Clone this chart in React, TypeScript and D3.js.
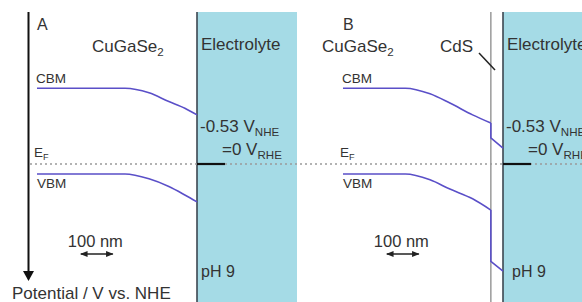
import React from "react";
import * as d3 from "d3";

// ---- data (distance in nm from the electrolyte interface, potential in V vs. NHE) ----
const panelLabels = ["A", "B"];
const efermiNHE = -0.53; // = 0 V_RHE at pH 9

const posA = [-500, -225, -150, -88, -38, 0];
const cbmA = [-2.01, -2.01, -1.92, -1.75, -1.62, -1.49];
const vbmA = [-0.335, -0.335, -0.24, -0.09, 0.075, 0.21];

const posB = [-500, -305, -228, -166, -95, -38];
const cbmB = [-2.01, -2.01, -1.9, -1.72, -1.49, -1.33];
const vbmB = [-0.335, -0.335, -0.22, -0.04, 0.15, 0.37];

const cdsPos = [-38, -38, 0];
const cdsCbm = [-1.33, -1.04, -0.84];
const cdsVbm = [0.37, 1.37, 1.56];

const scaleBarNm = 100;

const W = 582;
const H = 302;
const FONT = "'Liberation Sans', Arial, Helvetica, sans-serif";
const TXT = "#333";
const BAND = "#5a4fc8";
const BLUE = "#a5dbe6";

export default function App() {
  const xA = d3.scaleLinear().domain([-500, 0]).range([37, 197]);
  const xB = d3.scaleLinear().domain([-500, 0]).range([343, 503]);
  const y = d3.scaleLinear().domain([efermiNHE, efermiNHE + 1]).range([164, 215.2]);

  const bandPath = (xs: d3.ScaleLinear<number, number>, p: number[], v: number[], curve: d3.CurveFactory) =>
    d3
      .line<number>()
      .x((_, i) => xs(p[i]))
      .y((d) => y(d))
      .curve(curve)(v) as string;

  const yF = y(efermiNHE);

  const sub = (t: string) => (
    <tspan baselineShift="-30%" fontSize="0.68em">
      {t}
    </tspan>
  );

  const background = (key: string, xs: d3.ScaleLinear<number, number>, withCdS: boolean, rightEdge: number) => {
    const x0 = xs(0);
    return (
      <g key={"bg" + key}>
        <rect x={x0} y={12} width={rightEdge - x0} height={H - 12} fill={BLUE} />
        <line x1={x0} x2={x0} y1={12} y2={H} stroke="#3c4650" strokeWidth={1.6} />
        {withCdS && (
          <line x1={xs(cdsPos[0])} x2={xs(cdsPos[0])} y1={12} y2={H} stroke="#9a9a9a" strokeWidth={1.5} />
        )}
      </g>
    );
  };

  const panel = (
    key: string,
    xs: d3.ScaleLinear<number, number>,
    p: number[],
    cbm: number[],
    vbm: number[],
    withCdS: boolean
  ) => {
    const x0 = xs(0);
    const xStart = xs(-500);
    const sb0 = xs(-500 + 137);
    return (
      <g key={key}>
        <path d={bandPath(xs, p, cbm, d3.curveMonotoneX)} fill="none" stroke={BAND} strokeWidth={1.6} />
        <path d={bandPath(xs, p, vbm, d3.curveMonotoneX)} fill="none" stroke={BAND} strokeWidth={1.6} />
        {withCdS && (
          <>
            <path d={bandPath(xs, cdsPos, cdsCbm, d3.curveLinear)} fill="none" stroke={BAND} strokeWidth={1.6} />
            <path d={bandPath(xs, cdsPos, cdsVbm, d3.curveLinear)} fill="none" stroke={BAND} strokeWidth={1.6} />
          </>
        )}
        {/* Fermi level marker in electrolyte */}
        <line x1={x0} x2={x0 + 28} y1={yF} y2={yF} stroke="#111" strokeWidth={2.2} />
        {/* texts */}
        <g fill={TXT} fontFamily={FONT}>
          <text x={xStart} y={30} fontSize={16}>{key}</text>
          <text x={xStart - 1} y={83} fontSize={13.5}>CBM</text>
          <text x={xStart - 3} y={157} fontSize={13.5}>E{sub("F")}</text>
          <text x={xStart} y={188} fontSize={13.5}>VBM</text>
          <text x={withCdS ? xStart - 21 : xStart + 55} y={52} fontSize={17}>CuGaSe{sub("2")}</text>
          {withCdS && <text x={440} y={52} fontSize={17}>CdS</text>}
          <text x={x0 + 4} y={50} fontSize={17}>Electrolyte</text>
          <text x={x0 + 3} y={132} fontSize={17}>-0.53 V{sub("NHE")}</text>
          <text x={x0 + 25} y={155} fontSize={17}>=0 V{sub("RHE")}</text>
          <text x={x0 + (withCdS ? 9 : 4)} y={277} fontSize={16}>pH 9</text>
          <text x={sb0 - 13} y={247} fontSize={16.5}>100 nm</text>
        </g>
        {/* scale bar */}
        <g stroke="#222" strokeWidth={1.5}>
          <line x1={sb0} x2={xs(-500 + 137 + scaleBarNm)} y1={254} y2={254} markerStart="url(#sb)" markerEnd="url(#sb)" />
        </g>
      </g>
    );
  };

  return (
    <svg width={W} height={H} style={{ position: "absolute", left: 0, top: 0 }}>
      <defs>
        <marker id="sb" viewBox="0 0 10 10" refX="9" refY="5" markerWidth="5" markerHeight="5" orient="auto-start-reverse">
          <path d="M0,1 L10,5 L0,9 Z" fill="#222" />
        </marker>
      </defs>
      <rect width={W} height={H} fill="#fff" />
      {background(panelLabels[0], xA, false, 297)}
      {background(panelLabels[1], xB, true, W)}
      {/* Fermi level dotted */}
      <line x1={30} x2={W} y1={yF} y2={yF} stroke="#9a9a9a" strokeWidth={1.3} strokeDasharray="2 3" />
      {panel(panelLabels[0], xA, posA, cbmA, vbmA, false)}
      {panel(panelLabels[1], xB, posB, cbmB, vbmB, true)}
      {/* potential axis */}
      <line x1={28.5} x2={28.5} y1={12} y2={272} stroke="#111" strokeWidth={2} />
      <path d="M23,271 L34,271 L28.5,281 Z" fill="#111" />
      <text x={12} y={299} fontSize={17} fill={TXT} fontFamily={FONT}>
        Potential / V vs. NHE
      </text>
      {/* CdS pointer */}
      <line x1={479} x2={495} y1={53} y2={70} stroke="#222" strokeWidth={1.5} />
    </svg>
  );
}
